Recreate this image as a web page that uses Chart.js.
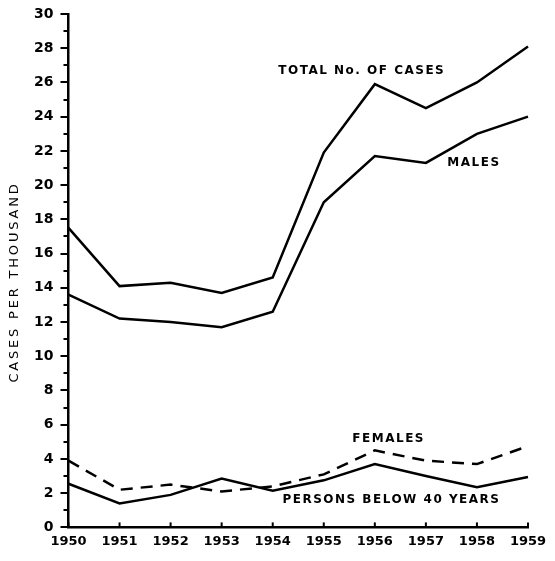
<!DOCTYPE html>
<html>
<head>
<meta charset="utf-8">
<script src="https://cdn.jsdelivr.net/npm/chart.js@4.4.1/dist/chart.umd.min.js"></script>
<style>
  html, body { margin: 0; padding: 0; background: #fff; }
  #wrap { width: 555px; height: 561px; }
</style>
</head>
<body>
<div id="wrap"><canvas id="chart"></canvas></div>
<script>
// data (cases per thousand)
const years = ['1950', '1951', '1952', '1953', '1954', '1955', '1956', '1957', '1958', '1959'];
const totalCases = [17.5, 14.1, 14.3, 13.7, 14.6, 21.9, 25.9, 24.5, 26.0, 28.1];
const males = [13.6, 12.2, 12.0, 11.7, 12.6, 19.0, 21.7, 21.3, 23.0, 24.0];
const females = [3.9, 2.2, 2.5, 2.1, 2.4, 3.1, 4.5, 3.9, 3.7, 4.75];
const below40 = [2.55, 1.4, 1.9, 2.85, 2.15, 2.75, 3.7, 3.0, 2.35, 2.95];
const yMin = 0, yMax = 30;
const yTitle = 'CASES PER THOUSAND';

// series names written next to the lines: [text, x index, y value]
const seriesNotes = [
    ['TOTAL No. OF CASES', 4.11, 26.7],
    ['MALES', 7.42, 21.3],
    ['FEMALES', 5.56, 5.2],
    ['PERSONS BELOW 40 YEARS', 4.19, 1.6]
];

const FONT = "'DejaVu Sans', sans-serif";

const decor = {
    id: 'decor',
    afterDraw(chart) {
        const { ctx, scales: { x, y } } = chart;
        ctx.save();
        ctx.strokeStyle = '#000';
        ctx.lineWidth = 2;
        ctx.lineCap = 'butt';
        // y ticks: long on even values, short on odd ones
        y.ticks.forEach(t => {
            const py = Math.round(y.getPixelForValue(t.value));
            const len = t.value % 2 === 0 ? 8 : 5;
            ctx.beginPath();
            ctx.moveTo(x.left - len, py);
            ctx.lineTo(x.left, py);
            ctx.stroke();
        });
        // x ticks point up into the plot
        x.ticks.forEach((t, i) => {
            const px = x.getPixelForValue(i);
            ctx.beginPath();
            ctx.moveTo(px, y.bottom);
            ctx.lineTo(px, y.bottom - 5);
            ctx.stroke();
        });

        ctx.fillStyle = '#000';
        ctx.font = 'bold 12px ' + FONT;
        ctx.letterSpacing = '1.5px';
        ctx.textBaseline = 'middle';
        ctx.textAlign = 'left';
        seriesNotes.forEach(([text, xi, yv]) => {
            ctx.fillText(text, x.getPixelForValue(xi), y.getPixelForValue(yv));
        });

        // rotated axis title
        ctx.font = '13px ' + FONT;
        ctx.letterSpacing = '2.8px';
        ctx.translate(15, 282);
        ctx.rotate(-Math.PI / 2);
        ctx.textAlign = 'center';
        ctx.fillText(yTitle, 0, 0);
        ctx.restore();
    }
};

const line = (data, dash) => ({
    data,
    borderColor: '#000',
    borderWidth: 2.5,
    borderDash: dash || [],
    pointRadius: 0,
    tension: 0,
    fill: false
});

new Chart(document.getElementById('chart'), {
    type: 'line',
    data: {
        labels: years,
        datasets: [
            line(totalCases),
            line(males),
            line(females, [12, 8]),
            line(below40)
        ]
    },
    options: {
        responsive: true,
        maintainAspectRatio: false,
        animation: false,
        events: [],
        layout: { autoPadding: false, padding: { left: 19, right: 27, top: 14, bottom: 6 } },
        plugins: { legend: { display: false }, tooltip: { enabled: false } },
        scales: {
            x: {
                offset: false,
                grid: { drawOnChartArea: false, drawTicks: false },
                border: { display: true, color: '#000', width: 2.5 },
                ticks: {
                    color: '#000',
                    padding: 6,
                    maxRotation: 0,
                    autoSkip: false,
                    font: { family: FONT, size: 13, weight: 'bold' }
                }
            },
            y: {
                min: yMin,
                max: yMax,
                grid: { drawOnChartArea: false, drawTicks: false },
                border: { display: true, color: '#000', width: 2.5 },
                // the top label may stick out above the plot, as in the figure
                afterFit: axis => { axis.paddingTop = 0; axis.paddingBottom = 0; },
                ticks: {
                    stepSize: 1,
                    autoSkip: false,
                    color: '#000',
                    padding: 15,
                    font: { family: FONT, size: 14, weight: 'bold' },
                    callback: v => (v % 2 === 0 ? String(v) : '')
                }
            }
        }
    },
    plugins: [decor]
});
</script>
</body>
</html>
